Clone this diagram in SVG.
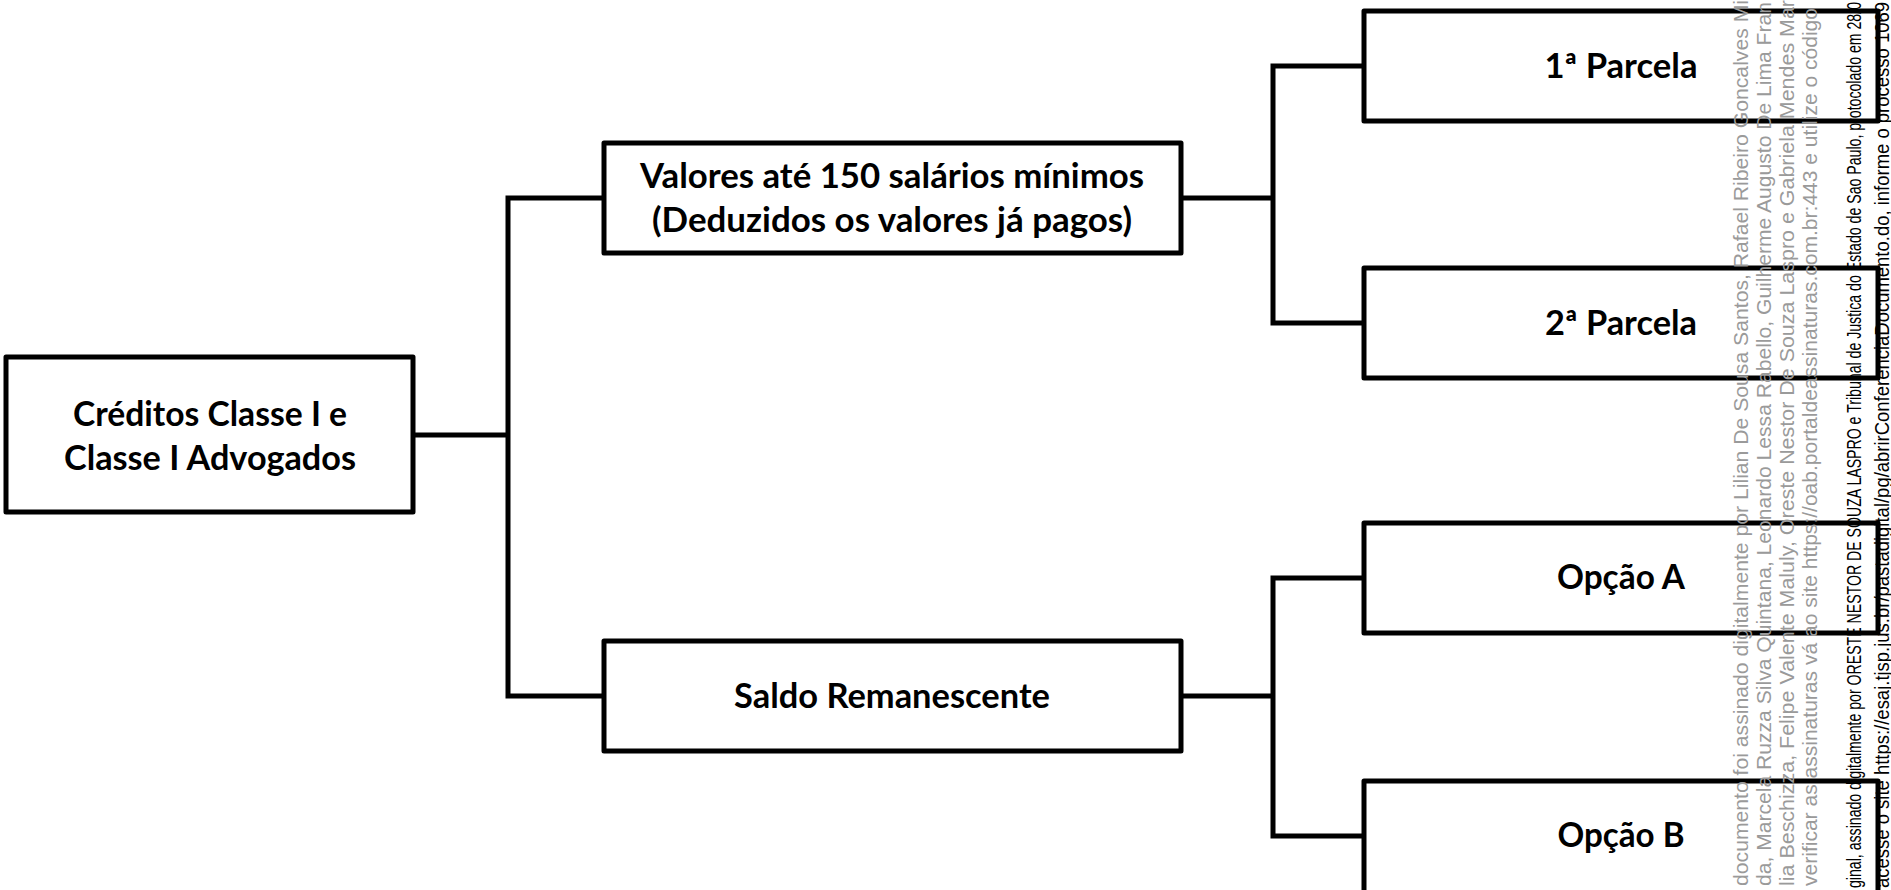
<svg xmlns="http://www.w3.org/2000/svg" width="1891" height="890" viewBox="0 0 1891 890">
<style>
.box{fill:#ffffff;stroke:#000000;stroke-width:5;stroke-linejoin:round}
.con{fill:none;stroke:#000000;stroke-width:5;stroke-linejoin:miter;stroke-linecap:square}
.lbl{font-family:Lato,"Open Sans","Liberation Sans",sans-serif;font-weight:700;font-size:34px;fill:#000000;text-anchor:middle}
.wmg{font-family:"Liberation Sans",Arial,sans-serif;font-size:21px;fill:#9a9a9a}
.wmb{font-family:"Liberation Sans Narrow","Liberation Sans",Arial,sans-serif;font-size:21px;fill:#000000}
</style>
<rect width="1891" height="890" fill="#ffffff"/>
<g id="connectors">
<path class="con" d="M413,435 H508 M508,198 V696 M508,198 H604 M508,696 H604"/>
<path class="con" d="M1181,198 H1273 M1273,66 V323 M1273,66 H1364 M1273,323 H1364"/>
<path class="con" d="M1181,696 H1273 M1273,578 V836 M1273,578 H1364 M1273,836 H1364"/>
</g>
<g id="node-root">
<rect class="box" x="6" y="357" width="407" height="155"/>
<text class="lbl" x="210" y="426" textLength="274" lengthAdjust="spacingAndGlyphs">Créditos Classe I e</text>
<text class="lbl" x="210" y="470" textLength="292" lengthAdjust="spacingAndGlyphs">Classe I Advogados</text>
</g>
<g id="node-valores">
<rect class="box" x="604" y="143" width="577" height="110"/>
<text class="lbl" x="892" y="188" textLength="504" lengthAdjust="spacingAndGlyphs">Valores até 150 salários mínimos</text>
<text class="lbl" x="892" y="232" textLength="480" lengthAdjust="spacingAndGlyphs">(Deduzidos os valores já pagos)</text>
</g>
<g id="node-saldo">
<rect class="box" x="604" y="641" width="577" height="110"/>
<text class="lbl" x="892" y="708" textLength="316" lengthAdjust="spacingAndGlyphs">Saldo Remanescente</text>
</g>
<g id="node-parcela1">
<rect class="box" x="1364" y="11" width="514" height="110"/>
<text class="lbl" x="1621" y="78" textLength="153" lengthAdjust="spacingAndGlyphs">1ª Parcela</text>
</g>
<g id="node-parcela2">
<rect class="box" x="1364" y="268" width="514" height="110"/>
<text class="lbl" x="1621" y="335" textLength="152" lengthAdjust="spacingAndGlyphs">2ª Parcela</text>
</g>
<g id="node-opcaoA">
<rect class="box" x="1364" y="523" width="514" height="110"/>
<text class="lbl" x="1621" y="589" textLength="128" lengthAdjust="spacingAndGlyphs">Opção A</text>
</g>
<g id="node-opcaoB">
<rect class="box" x="1364" y="781" width="514" height="112"/>
<text class="lbl" x="1621" y="847" textLength="127" lengthAdjust="spacingAndGlyphs">Opção B</text>
</g>
<g id="watermark">
<text class="wmg" transform="translate(1748,886) rotate(-90)" textLength="886" lengthAdjust="spacingAndGlyphs">documento foi assinado digitalmente por Lilian De Sousa Santos, Rafael Ribeiro Goncalves Mi</text>
<text class="wmg" transform="translate(1771,886) rotate(-90)" textLength="884" lengthAdjust="spacingAndGlyphs">da, Marcela Ruzza Silva Quintana, Leonardo Lessa Rabello, Guilherme Augusto De Lima Fran</text>
<text class="wmg" transform="translate(1794,886) rotate(-90)" textLength="886" lengthAdjust="spacingAndGlyphs">lia Beschizza, Felipe Valente Maluly, Oreste Nestor De Souza Laspro e Gabriela Mendes Mar</text>
<text class="wmg" transform="translate(1817,886) rotate(-90)" textLength="878" lengthAdjust="spacingAndGlyphs">verificar as assinaturas vá ao site https://oab.portaldeassinaturas.com.br:443 e utilize o código</text>
<text class="wmb" transform="translate(1861,888) rotate(-90)" textLength="886" lengthAdjust="spacingAndGlyphs">ginal, assinado digitalmente por ORESTE NESTOR DE SOUZA LASPRO e Tribunal de Justica do Estado de Sao Paulo, protocolado em 28/0</text>
<text class="wmb" transform="translate(1889,888) rotate(-90)" textLength="886" lengthAdjust="spacingAndGlyphs">acesse o site https://esaj.tjsp.jus.br/pastadigital/pg/abrirConferenciaDocumento.do, informe o processo 1069</text>
</g>
</svg>
